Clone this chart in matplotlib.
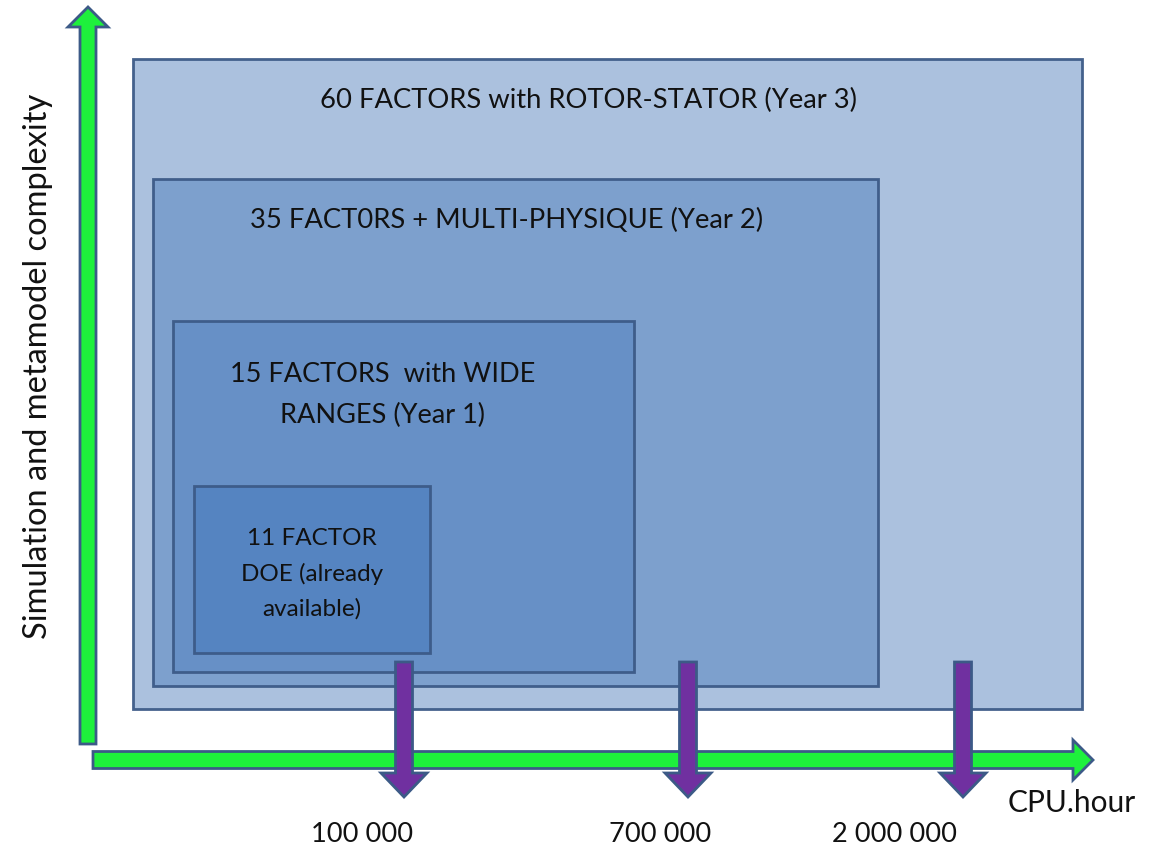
import matplotlib
matplotlib.use("Agg")
import matplotlib.pyplot as plt
from matplotlib.patches import Rectangle, FancyArrow

plt.rcParams['font.family'] = ['Lato', 'DejaVu Sans']

# stages, outer to inner
stage_labels = ["60 FACTORS with ROTOR-STATOR (Year 3)",
                "35 FACT0RS + MULTI-PHYSIQUE (Year 2)",
                "15 FACTORS  with WIDE\nRANGES (Year 1)",
                "11 FACTOR\nDOE (already\navailable)"]
cpu_ticks = ["100 000", "700 000", "2 000 000"]
x_label = "CPU.hour"
y_label = "Simulation and metamodel complexity"

# layout in pixel space (x0, y0, x1, y1)
boxes = [(133, 60, 1082, 710), (153, 180, 878, 687),
         (173, 322, 634, 673), (194, 487, 430, 654)]
box_colors = ["#A7BEDD", "#7B9FCD", "#6690C6", "#5584C1"]
label_pos = [(588, 100), (507, 220), (383, 395), (312, 574)]
label_size = [19.7, 19.7, 19.5, 17.5]
label_ls = [1.2, 1.2, 1.75, 1.75]
tick_x = [404, 688, 963]
tick_label_x = [362, 660, 895]

fig = plt.figure(figsize=(11.53, 8.53), dpi=100)
ax = fig.add_axes([0, 0, 1, 1])
ax.set_xlim(0, 1153)
ax.set_ylim(853, 0)
ax.axis("off")

edge = "#3C5A87"
for (x0, y0, x1, y1), c in zip(boxes, box_colors):
    ax.add_patch(Rectangle((x0, y0), x1 - x0, y1 - y0, facecolor=c,
                           edgecolor=edge, lw=2, alpha=0.95))

for txt, (x, y), fs, ls in zip(stage_labels, label_pos, label_size, label_ls):
    ax.text(x, y, txt, ha="center", va="center", fontsize=fs,
            color="#111111", linespacing=ls)

# axes arrows
green = "#1EF03C"
ax.add_patch(FancyArrow(88, 745, 0, -737, width=16, head_width=40,
                        head_length=20, length_includes_head=True,
                        facecolor=green, edgecolor=edge, lw=2))
ax.add_patch(FancyArrow(93, 761, 1000, 0, width=17, head_width=40,
                        head_length=20, length_includes_head=True,
                        facecolor=green, edgecolor=edge, lw=2))

# cpu markers
for x in tick_x:
    ax.add_patch(FancyArrow(x, 663, 0, 135, width=17, head_width=46,
                            head_length=24, length_includes_head=True,
                            facecolor="#7030A0", edgecolor=edge, lw=2))

for txt, x in zip(cpu_ticks, tick_label_x):
    ax.text(x, 835, txt, ha="center", va="center", fontsize=19.6, color="#111111")

ax.text(1072, 803, x_label, ha="center", va="center", fontsize=21.5, color="#111111")
ax.text(38, 366, y_label, ha="center", va="center", rotation=90,
        fontsize=23.5, color="#111111")

fig.savefig("out.png", dpi=100)
